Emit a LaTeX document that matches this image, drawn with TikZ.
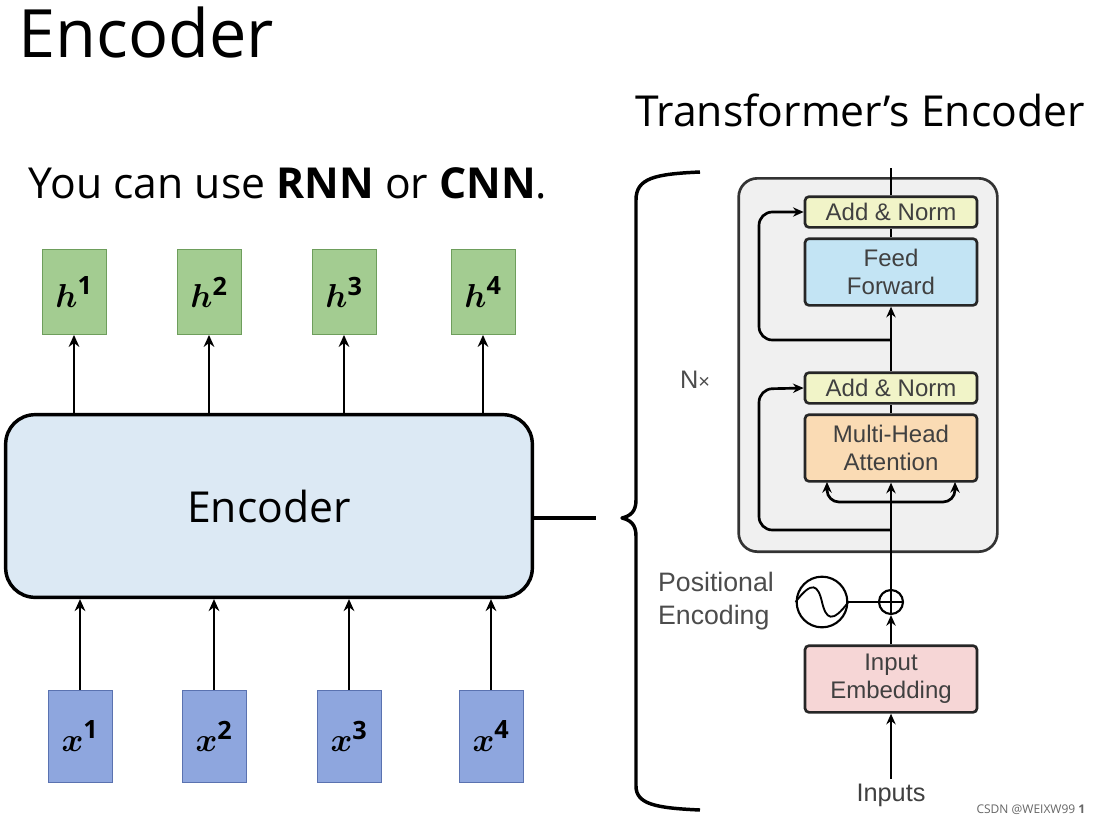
\documentclass[tikz,border=0pt]{standalone}
\usepackage{fontspec}
\usepackage{amsmath,bm}
\setmainfont{Open Sans}
\newfontfamily\hv{Liberation Sans}
\usetikzlibrary{arrows.meta}
\definecolor{hgreen}{HTML}{A3CC91}
\definecolor{hgreenb}{HTML}{6E9E5C}
\definecolor{xblue}{HTML}{8EA6DE}
\definecolor{xblueb}{HTML}{5A72B0}
\definecolor{encfill}{HTML}{DCE9F4}
\definecolor{anfill}{HTML}{F1F4C8}
\definecolor{fffill}{HTML}{C3E4F4}
\definecolor{mhfill}{HTML}{FADBB4}
\definecolor{iefill}{HTML}{F6D6D6}
\definecolor{blockfill}{HTML}{F0F0F0}
\begin{document}
\begin{tikzpicture}[x=0.75pt,y=-0.75pt,
 hbox/.style={draw=hgreenb,fill=hgreen,minimum width=48pt,minimum height=64pt,inner sep=0pt,font=\fontsize{27}{30}\selectfont},
 xbox/.style={draw=xblueb,fill=xblue,minimum width=48pt,minimum height=69pt,inner sep=0pt,font=\fontsize{27}{30}\selectfont},
 arr/.style={line width=2.2pt,-{Stealth[length=9pt,width=8pt]}},
 tb/.style={draw=black!85,line width=2pt,rounded corners=3pt,minimum width=129pt,inner sep=0pt,align=center,font=\hv\fontsize{18}{21}\selectfont,text=black!75},
 tarr/.style={line width=2pt,-{Stealth[length=8pt,width=7pt]}},
 tl/.style={line width=2pt}]
\useasboundingbox (0,0) rectangle (1093,825);
\fill[white] (0,0) rectangle (1093,825);
\node[font=\fontsize{50}{54}\selectfont,anchor=west] (title) at (14,32) {Encoder};
\node[font=\fontsize{32}{36}\selectfont] (tt) at (860,110) {Transformer’s Encoder};
\node[font=\fontsize{32}{36}\selectfont,anchor=west] (sub) at (24,183) {You can use \textbf{RNN} or \textbf{CNN}.};
% encoder
\node[draw,line width=2.6pt,fill=encfill,rounded corners=22pt,minimum width=395pt,minimum height=137pt,font=\fontsize{32}{36}\selectfont] (enc) at (269,506) {Encoder};
\foreach \i/\xh/\xx in {1/74/80,2/209/214,3/344/349,4/483/491}{
 \node[hbox] (h\i) at (\xh,292) {$\bm{h}^{\mathbf{\i}}$};
 \node[xbox] (x\i) at (\xx,736) {$\bm{x}^{\mathbf{\i}}$};
 \draw[arr] (h\i.south |- enc.north) -- (h\i.south);
 \draw[arr] (x\i.north) -- (x\i.north |- enc.south);
}
% brace
\coordinate (bl) at (596,518);
\draw[line width=2.6pt,line join=round] (700,172) .. controls (655,174) and (636,178) .. (636,200) -- (636,500) .. controls (636,512) and (630,516) .. (bl -| 622,0) .. controls (630,520) and (636,524) .. (636,536) -- (636,786) .. controls (636,804) and (655,808) .. (700,810);
\draw[line width=2.6pt] (enc.east |- bl) -- (bl);
% block
\node[draw=black!80,fill=blockfill,line width=2pt,rounded corners=14pt,minimum width=194pt,minimum height=280pt] (blk) at (868,365) {};
\node[tb,fill=anfill,minimum height=23pt] (an1) at (891,212) {Add \& Norm};
\node[tb,fill=fffill,minimum height=50pt] (ff) at (891,272) {Feed\\Forward};
\node[tb,fill=anfill,minimum height=23pt] (an2) at (891,388) {Add \& Norm};
\node[tb,fill=mhfill,minimum height=50pt] (mh) at (891,448) {Multi-Head\\Attention};
\node[tb,fill=iefill,minimum height=50pt] (ie) at (891,679) {Input\\Embedding};
\node[font=\hv\fontsize{19}{22}\selectfont,text=black!70] (nx) at (695,380) {N{\fontsize{15}{17}\selectfont×}};
\node[font=\hv\fontsize{20}{25}\selectfont,text=black!70,align=left] (pe) at (716,601) {Positional\\Encoding};
\node[font=\hv\fontsize{19}{22}\selectfont,text=black!75] (inp) at (891,795) {Inputs};
\node[draw,line width=1.6pt,circle,minimum size=38pt,inner sep=0pt] (pc) at (822,602) {};
\draw[line width=1.4pt] (pc.west) .. controls (812,580) and (818,585) .. (822,602) .. controls (826,619) and (832,624) .. (pc.east);
\node[draw,line width=1.6pt,circle,minimum size=18pt,inner sep=0pt] (plus) at (891,602) {};
\draw[line width=1.4pt] (plus.north) -- (plus.south) (plus.west) -- (plus.east);
\draw[tl] (pc.east) -- (plus.west);
% connectors
\coordinate (top) at (891,168);
\draw[tarr] (inp.north) -- (ie.south);
\draw[tarr] (ie.north) -- (plus.south);
\draw[tarr] (plus.north) -- (mh.south);
\draw[tl] (mh.north) -- (an2.south);
\draw[tarr] (an2.north) -- (ff.south);
\draw[tl] (ff.north) -- (an1.south);
\draw[tl] (an1.north) -- (top);
\coordinate (r1) at (891,530);
\coordinate (r2) at (891,340);
\draw[tarr,rounded corners=10pt] (r1) -- (759,530) -- (759,389) -- (an2.west);
\draw[tarr,rounded corners=10pt] (r2) -- (759,340) -- (759,212) -- (an1.west);
\coordinate (f) at (891,502);
\draw[tarr,rounded corners=9pt] (f) -- (827,502) -- (827,482);
\draw[tarr,rounded corners=9pt] (f) -- (955,502) -- (955,482);
\node[font=\fontsize{9}{10}\selectfont,text=black!60,anchor=east] (wm) at (1090,810) {CSDN @WEIXW99 \textbf{1}};
\end{tikzpicture}
\end{document}
